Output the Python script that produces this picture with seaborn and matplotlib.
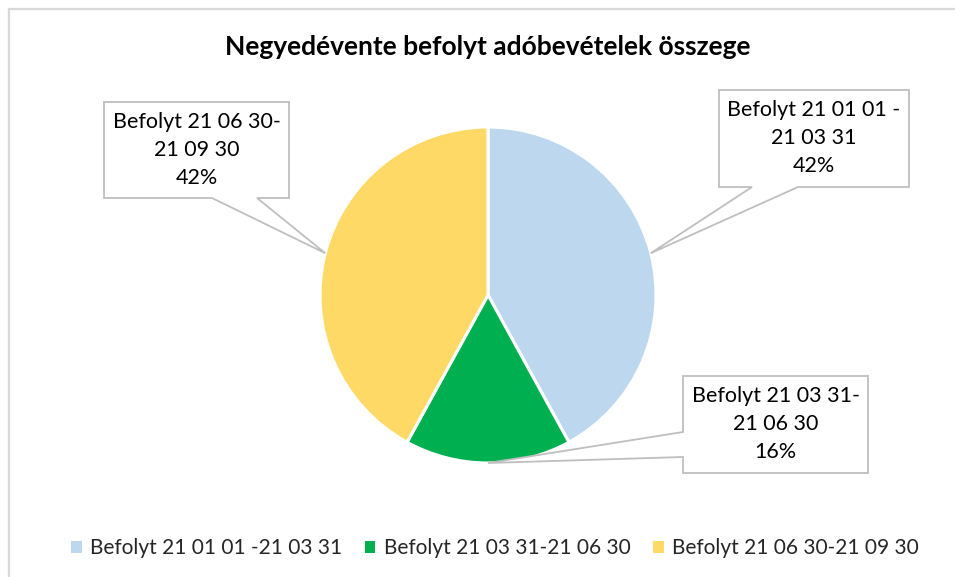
import numpy as np
import matplotlib
matplotlib.use("Agg")
import matplotlib.pyplot as plt
from matplotlib.patches import Polygon, Patch
import seaborn as sns

# data
periods = ["Befolyt 21 01 01 -21 03 31", "Befolyt 21 03 31-21 06 30", "Befolyt 21 06 30-21 09 30"]
label_lines = [["Befolyt 21 01 01 -", "21 03 31"],
               ["Befolyt 21 03 31-", "21 06 30"],
               ["Befolyt 21 06 30-", "21 09 30"]]
shares = [42, 16, 42]
colors = ["#BDD7EE", "#00B050", "#FFD966"]

W, H = 955, 577

sns.set_theme(style="white")
plt.rcParams["font.family"] = ["Lato", "DejaVu Sans"]

fig = plt.figure(figsize=(W / 100, H / 100), dpi=100)
ax = fig.add_axes([0, 0, 1, 1])

center = (488, H - 295)
radius = 168
wedges, _ = ax.pie(shares, colors=colors, startangle=90, counterclock=False,
                   center=center, radius=radius,
                   wedgeprops=dict(edgecolor="white", linewidth=2.2))
ax.set_xlim(0, W)
ax.set_ylim(0, H)
ax.set_aspect("auto")
ax.axis("off")

# outer chart frame
ax.plot([8.5, 8.5, W], [0, H - 8.5, H - 8.5], color="#D9D9D9", lw=1.6,
        solid_joinstyle="miter", clip_on=False)

ax.text(488, H - 47, "Negyedévente befolyt adóbevételek összege",
        ha="center", va="center", fontsize=19, fontweight="bold", color="#000000")

# callout boxes: (left, top, right, bottom) in image px, pointer side and span
boxes = [
    ((719, 90, 909, 187), "bottom", (752, 798)),
    ((683, 376, 868, 473), "left", (432, 457)),
    ((104, 102, 289, 198), "bottom", (212, 257)),
]

total = sum(shares)
for w, (box, side, span), lines, val in zip(wedges, boxes, label_lines, shares):
    mid = np.deg2rad((w.theta1 + w.theta2) / 2)
    tip = (center[0] + radius * np.cos(mid), center[1] + radius * np.sin(mid))
    l, t, r, b = box
    t, b = H - t, H - b
    if side == "bottom":
        pts = [(l, t), (r, t), (r, b), (span[1], b), tip, (span[0], b), (l, b)]
    else:
        s0, s1 = H - span[0], H - span[1]
        pts = [(l, t), (r, t), (r, b), (l, b), (l, s1), tip, (l, s0)]
    ax.add_patch(Polygon(pts, closed=True, facecolor="white", edgecolor="#BFBFBF",
                         lw=1.3, zorder=5))
    txt = "\n".join(lines + [f"{val / total:.0%}"])
    ax.text((l + r) / 2, (t + b) / 2, txt, ha="center", va="center",
            fontsize=15.5, linespacing=1.5, color="#000000", zorder=6)

handles = [Patch(facecolor=c, edgecolor="none") for c in colors]
fig.legend(handles, periods, loc="center", bbox_to_anchor=(495 / W, 1 - 548 / H),
           ncol=3, frameon=False, fontsize=15, handlelength=0.5, handleheight=0.5,
           handletextpad=0.4, columnspacing=1.1)

fig.savefig("out.png", dpi=100)
